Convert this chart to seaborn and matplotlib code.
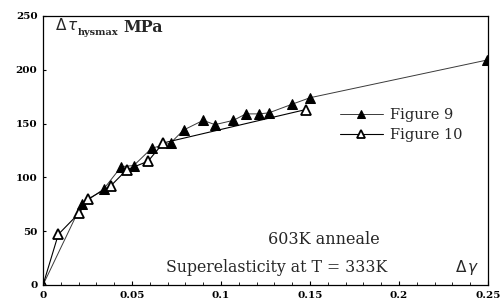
import matplotlib
matplotlib.use("Agg")
import matplotlib.pyplot as plt
import seaborn as sns
import pandas as pd
from matplotlib.ticker import MultipleLocator

# Data
fig9_x = [0.0, 0.0217, 0.034, 0.044, 0.051, 0.061, 0.0717, 0.079, 0.090, 0.0966,
          0.107, 0.114, 0.1215, 0.127, 0.140, 0.150, 0.2494]
fig9_y = [0, 75, 89, 110, 111, 127, 132, 144, 153, 149,
          153, 159, 159, 160, 168, 174, 209]
fig10_x = [0.0, 0.0086, 0.0204, 0.0255, 0.038, 0.047, 0.059, 0.0676, 0.1476]
fig10_y = [0, 47, 67, 80, 92, 107, 115, 132, 163]

x_ticks = [0, 0.05, 0.1, 0.15, 0.2, 0.25]
x_tick_labels = ["0", "0.05", "0.1", "0.15", "0.2", "0.25"]
y_ticks = [0, 50, 100, 150, 200, 250]
y_tick_labels = ["0", "50", "100", "150", "200", "250"]

sns.set_style("white")
plt.rcParams["font.family"] = ["DejaVu Serif"]

fig = plt.figure(figsize=(5.03, 3.07), dpi=100)
ax = fig.add_axes([0.0855, 0.0717, 0.8845, 0.8763])

df9 = pd.DataFrame({"x": fig9_x, "y": fig9_y})
df10 = pd.DataFrame({"x": fig10_x, "y": fig10_y})

sns.lineplot(data=df9, x="x", y="y", ax=ax, color="#3a3a3a", linewidth=0.7,
             marker="^", markersize=7, markerfacecolor="black",
             markeredgecolor="black", label="Figure 9", estimator=None, sort=False)
sns.lineplot(data=df10, x="x", y="y", ax=ax, color="black", linewidth=0.8,
             marker="^", markersize=7, markerfacecolor="white",
             markeredgecolor="black", markeredgewidth=1.3,
             label="Figure 10", estimator=None, sort=False)

ax.set_xlim(0, 0.25)
ax.set_ylim(0, 250)
ax.set_xticks(x_ticks)
ax.set_xticklabels(x_tick_labels)
ax.set_yticks(y_ticks)
ax.set_yticklabels(y_tick_labels)
ax.xaxis.set_minor_locator(MultipleLocator(0.01))
ax.tick_params(axis="both", which="major", direction="in", length=3, width=0.8,
               labelsize=7.5, pad=4, colors="black")
ax.tick_params(axis="x", which="minor", direction="in", length=2, width=0.7,
               bottom=True)
ax.tick_params(axis="y", which="major", left=True, length=2)
ax.tick_params(axis="x", which="major", bottom=True)
for lab in ax.get_xticklabels() + ax.get_yticklabels():
    lab.set_fontweight("bold")
ax.set_xlabel("")
ax.set_ylabel("")
for s in ax.spines.values():
    s.set_color("black")
    s.set_linewidth(0.9)
    s.set_visible(True)

ax.text(0.0067, 241.5, r"$\Delta\,\tau$", fontsize=11, va="center", ha="left")
ax.text(0.0197, 235, "hysmax", fontsize=7, va="center", ha="left", fontweight="bold")
ax.text(0.045, 239, "MPa", fontsize=11.5, va="center", ha="left", fontweight="bold")

ax.text(0.158, 42, "603K anneale", fontsize=11.5, ha="center", va="center")
ax.text(0.1315, 16, "Superelasticity at T = 333K", fontsize=11.3, ha="center", va="center")
ax.text(0.2385, 16, r"$\Delta\,\gamma$", fontsize=11, ha="center", va="center")

leg = ax.legend(loc="center left", bbox_to_anchor=(0.667, 0.595), frameon=False,
                fontsize=10.5, handlelength=2.95, handletextpad=0.48,
                labelspacing=0.37, borderpad=0, borderaxespad=0, markerscale=0.8)

fig.savefig("out.png", dpi=100)
